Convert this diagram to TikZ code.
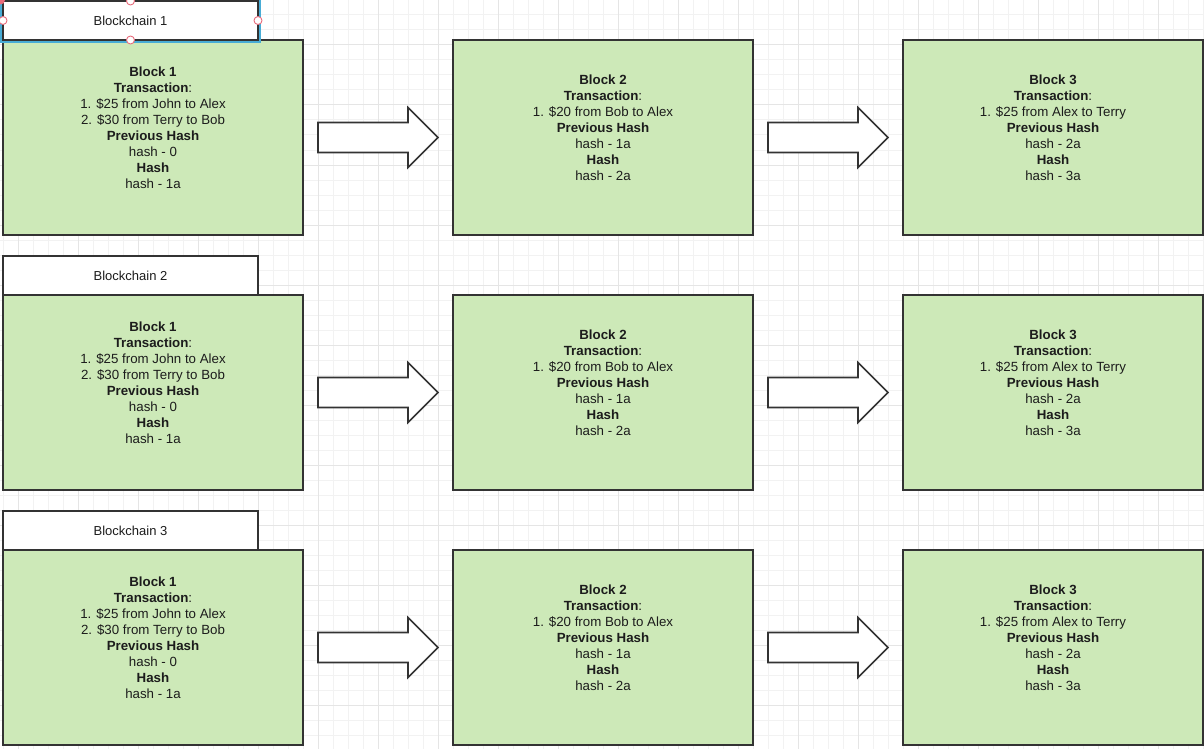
\documentclass[tikz,border=0pt]{standalone}
\usepackage{fontspec}
\setmainfont{Liberation Sans}
\usetikzlibrary{calc}

\definecolor{gridminor}{RGB}{242,242,242}
\definecolor{gridmajor}{RGB}{229,229,229}
\definecolor{blockfill}{RGB}{205,233,184}
\definecolor{edge}{RGB}{51,51,51}
\definecolor{ink}{RGB}{28,28,28}
\definecolor{selblue}{RGB}{72,172,214}
\definecolor{handlered}{RGB}{232,108,124}

\tikzset{
  block/.style={draw=edge, line width=1.6pt, fill=blockfill, outer sep=0pt,
    minimum width=300pt, minimum height=195pt, anchor=north west, inner sep=0pt},
  chainlabel/.style={draw=edge, line width=1.6pt, fill=white, text=ink, outer sep=0pt,
    minimum width=255pt, minimum height=39pt, anchor=south west, inner sep=0pt,
    font=\fontsize{13}{15.6}\selectfont},
  blocktext/.style={anchor=north, align=center, inner sep=0pt, text=ink,
    font=\fontsize{13.3}{16.05}\selectfont},
  flowarrow/.style={draw=edge, line width=1.6pt, fill=white, line join=miter},
  handle/.style={circle, draw=handlered, fill=white, line width=0.9pt,
    minimum size=8pt, inner sep=0pt},
}

\newcommand{\firstline}{\rule{0pt}{10pt}}

\begin{document}
\begin{tikzpicture}[x=1pt, y=-1pt]
  \clip (0,0) rectangle (1204,749);
  \fill[white] (0,0) rectangle (1204,749);

  % background grid
  \foreach \gx in {3,18,...,1203} \draw[gridminor, line width=1pt] (\gx,0) -- (\gx,749);
  \foreach \gy in {0,15,...,745} \draw[gridminor, line width=1pt] (0,\gy) -- (1204,\gy);
  \foreach \gx in {18,78,...,1158} \draw[gridmajor, line width=1pt] (\gx,0) -- (\gx,749);
  \foreach \gy in {45,105,...,705} \draw[gridmajor, line width=1pt] (0,\gy) -- (1204,\gy);

  % three identical chains
  \foreach \r/\top in {1/40, 2/295, 3/550} {
    \node[block] (b-\r-1) at (3,\top) {};
    \node[block] (b-\r-2) at (453,\top) {};
    \node[block] (b-\r-3) at (903,\top) {};

    \node[chainlabel] (lab-\r) at (b-\r-1.north west) {Blockchain \r};

    \node[blocktext] (t-\r-1) at ($(b-\r-1.north)+(0,26)$)
      {\firstline\textbf{Block 1}\\ \textbf{Transaction}:\\ 1. \$25 from John to Alex\\
       2. \$30 from Terry to Bob\\ \textbf{Previous Hash}\\ hash - 0\\ \textbf{Hash}\\ hash - 1a};
    \node[blocktext] (t-\r-2) at ($(b-\r-2.north)+(0,34)$)
      {\firstline\textbf{Block 2}\\ \textbf{Transaction}:\\ 1. \$20 from Bob to Alex\\
       \textbf{Previous Hash}\\ hash - 1a\\ \textbf{Hash}\\ hash - 2a};
    \node[blocktext] (t-\r-3) at ($(b-\r-3.north)+(0,34)$)
      {\firstline\textbf{Block 3}\\ \textbf{Transaction}:\\ 1. \$25 from Alex to Terry\\
       \textbf{Previous Hash}\\ hash - 2a\\ \textbf{Hash}\\ hash - 3a};

    % block arrows linking consecutive blocks
    \foreach \c in {1,2} {
      \draw[flowarrow] ($(b-\r-\c.east)+(15,-15)$) -- ++(90,0) -- ++(0,-15)
        -- ++(30,30) -- ++(-30,30) -- ++(0,-15) -- ++(-90,0) -- cycle;
    }
  }

  % selection frame and handles on the first chain label
  \draw[selblue, line width=2pt]
    ($(lab-1.north west)+(-1.8,-1.8)$) rectangle ($(lab-1.south east)+(1.8,1.8)$);
  \fill[handlered] (0.5,0) circle (4.5pt);
  \node[handle] (h-n) at (lab-1.north) {};
  \node[handle] (h-w) at (lab-1.west) {};
  \node[handle] (h-e) at (lab-1.east) {};
  \node[handle] (h-s) at (lab-1.south) {};
\end{tikzpicture}
\end{document}
